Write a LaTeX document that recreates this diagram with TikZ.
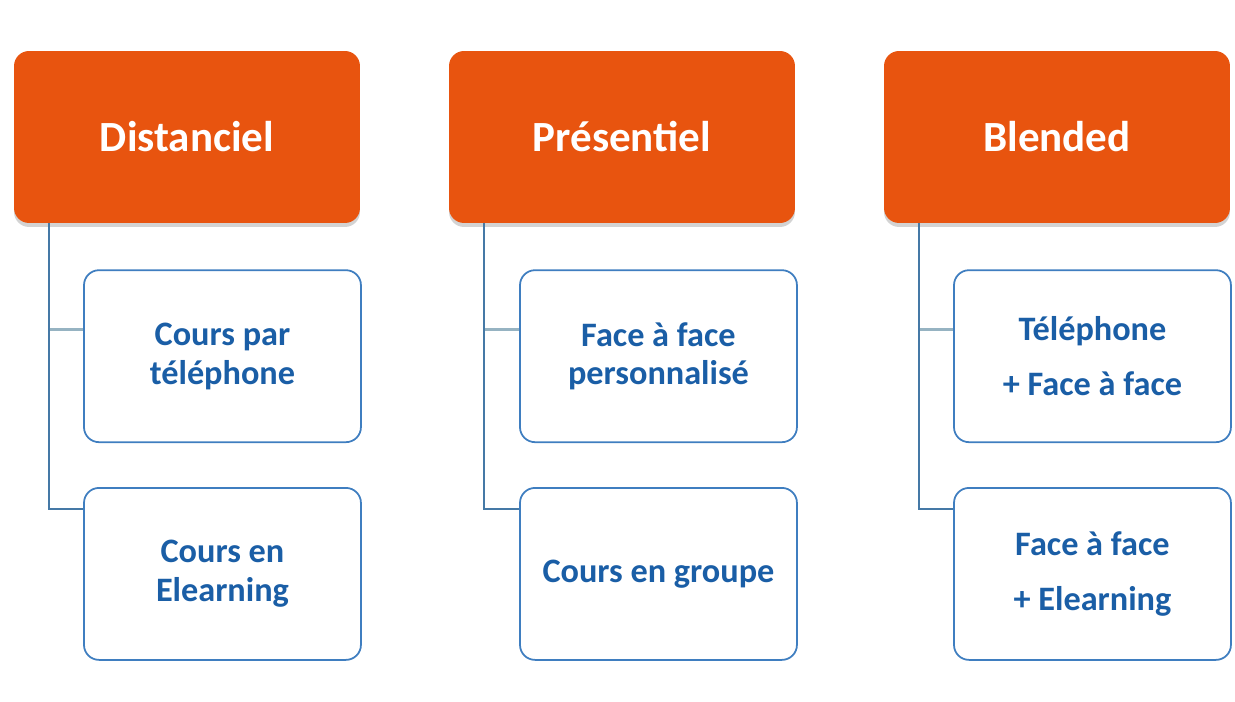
\documentclass[tikz,border=0pt]{standalone}
\usepackage{fontspec}
\setmainfont{Carlito}
\usetikzlibrary{positioning, shadows}

\definecolor{headorange}{HTML}{E8540F}
\definecolor{itemblue}{HTML}{1A5EA6}
\definecolor{itemframe}{HTML}{3F7EC0}
\definecolor{trunkblue}{HTML}{4579A6}
\definecolor{stubgray}{HTML}{96B3C2}

\tikzset{
  mode/.style={rectangle, rounded corners=0.3cm, fill=headorange, text=white,
    minimum width=6.92cm, minimum height=3.44cm, font=\bfseries\fontsize{24.5}{28}\selectfont,
    drop shadow={shadow xshift=0pt, shadow yshift=-0.08cm, opacity=0.35}},
  offer/.style={rectangle, rounded corners=0.3cm, draw=itemframe, line width=1pt, fill=white,
    text=itemblue, align=center, minimum width=5.54cm, minimum height=3.44cm,
    font=\bfseries\fontsize{19.5}{22}\selectfont},
  trunk/.style={draw=trunkblue, line width=1pt},
  stub/.style={draw=stubgray, line width=1.5pt}
}

\begin{document}
\begin{tikzpicture}[x=0.02cm, y=-0.02cm]
\useasboundingbox (0,0) rectangle (1235,702);

% heads
\node[mode] (dist) at (187,137) {Distanciel};
\node[mode] (pres) at (622,137) {Présentiel};
\node[mode] (blend) at (1057,137) {Blended};

% offers
\node[offer, below left=0.92cm and -0.03cm of dist.south east] (dist_tel) {Cours par\\téléphone};
\node[offer, below=0.88cm of dist_tel] (dist_elearn) {Cours en\\Elearning};
\node[offer, below left=0.92cm and -0.05cm of pres.south east] (pres_perso) {Face à face\\personnalisé};
\node[offer, below=0.88cm of pres_perso] (pres_groupe) {Cours en groupe};
\node[offer, below left=0.92cm and -0.03cm of blend.south east, font=\bfseries\fontsize{19.5}{31}\selectfont] (blend_tel) {Téléphone\\+ Face à face};
\node[offer, below=0.88cm of blend_tel, font=\bfseries\fontsize{19.5}{31}\selectfont] (blend_elearn) {Face à face\\+ Elearning};

% links
\foreach \head/\first/\second in {dist/dist_tel/dist_elearn, pres/pres_perso/pres_groupe, blend/blend_tel/blend_elearn} {
  \draw[stub] ([yshift=-1.2cm]\first.north west) -- ++(-0.7cm,0);
  \draw[trunk] ([xshift=0.7cm]\head.south west) |- ([yshift=-0.44cm]\second.north west);
}
\end{tikzpicture}
\end{document}
